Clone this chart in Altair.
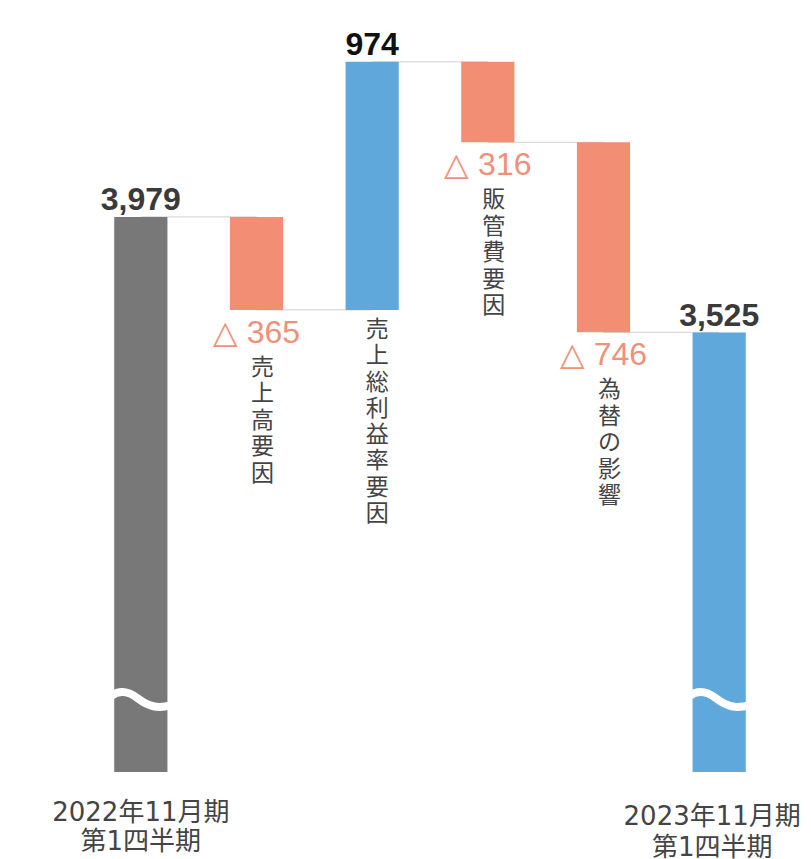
import altair as alt
import pandas as pd

# ---- data ----
keys = ["prev", "sales", "margin", "sga", "fx", "curr"]
labels = ["2022年11月期\n第1四半期", "売上高要因", "売上総利益率要因", "販管費要因", "為替の影響", "2023年11月期\n第1四半期"]
kinds = ["previous", "decrease", "increase", "decrease", "decrease", "current"]
amounts = [3979, -365, 974, -316, -746, 3525]
value_labels = ["3,979", "△ 365", "974", "△ 316", "△ 746", "3,525"]
axis_floor = 1800      # value where the broken axis is cut
break_value = 2083     # where the wavy break mark sits on the total bars
axis_top = 4713

# ---- build waterfall table ----
rows = []
running = 0
for k, lab, kind, amt, vl in zip(keys, labels, kinds, amounts, value_labels):
    if kind in ("previous", "current"):
        lo, hi = axis_floor, amt
        running = amt
    else:
        start = running
        end = running + amt
        lo, hi = min(start, end), max(start, end)
        running = end
    rows.append(dict(key=k, label=lab, kind=kind, lo=lo, hi=hi, level=running, vlabel=vl))
df = pd.DataFrame(rows)
df["vert"] = df["label"].apply(lambda s: "\n".join(list(s)))
df["brk"] = break_value

conn = pd.DataFrame({
    "key": keys[:-1],
    "key2": keys[1:],
    "level": df["level"].tolist()[:-1],
})

xsc = alt.Scale(domain=keys, paddingInner=0.54, paddingOuter=0.27)
ysc = alt.Scale(domain=[axis_floor, axis_top], nice=False, zero=False)
X = alt.X("key:N", scale=xsc, axis=None, sort=keys)
color_scale = alt.Scale(domain=["previous", "current", "increase", "decrease"],
                        range=["#787878", "#5FA8DB", "#5FA8DB", "#F28E74"])

base = alt.Chart(df)

connectors = alt.Chart(conn).mark_rule(color="#DADADA", strokeWidth=1.2).encode(
    x=alt.X("key:N", scale=xsc, axis=None, sort=keys),
    x2="key2:N",
    y=alt.Y("level:Q", scale=ysc, axis=None),
)

bars = base.mark_bar().encode(
    x=X,
    y=alt.Y("lo:Q", scale=ysc, axis=None),
    y2="hi:Q",
    color=alt.Color("kind:N", scale=color_scale, legend=None),
)

wave = "M -1 -0.12 C -0.75 -0.32, -0.45 -0.32, -0.1 -0.05 C 0.25 0.22, 0.55 0.3, 1 0.18"
breaks = base.transform_filter(
    "datum.kind == 'previous' || datum.kind == 'current'"
).mark_point(shape=wave, size=3600, filled=False, stroke="white", strokeWidth=8, opacity=1).encode(
    x=X, y=alt.Y("brk:Q", scale=ysc, axis=None)
)

total_labels = base.transform_filter("datum.kind == 'previous' || datum.kind == 'current'").mark_text(
    font="Liberation Sans", fontSize=32, fontWeight="bold", baseline="alphabetic", dy=-7,
    color="#3A3A3A"
).encode(
    x=X, y=alt.Y("hi:Q", scale=ysc, axis=None), text="vlabel:N",
)

inc_labels = base.transform_filter("datum.kind == 'increase'").mark_text(
    font="Liberation Sans", fontSize=32, fontWeight="bold", baseline="alphabetic", dy=-7,
    color="#111111"
).encode(
    x=X, y=alt.Y("hi:Q", scale=ysc, axis=None), text="vlabel:N",
)

dec_labels = base.transform_filter("datum.kind == 'decrease'").mark_text(
    font="Liberation Sans", fontSize=32, baseline="alphabetic", dy=33, color="#F0907A"
).encode(
    x=X, y=alt.Y("lo:Q", scale=ysc, axis=None), text="vlabel:N",
)

dec_names = base.transform_filter("datum.kind == 'decrease'").mark_text(
    font="Noto Sans CJK JP", fontSize=23, baseline="top", dy=47, dx=6, lineBreak="\n",
    lineHeight=26.5, color="#444444"
).encode(
    x=X, y=alt.Y("lo:Q", scale=ysc, axis=None), text="vert:N",
)

inc_names = base.transform_filter("datum.kind == 'increase'").mark_text(
    font="Noto Sans CJK JP", fontSize=23, baseline="top", dy=9, dx=5, lineBreak="\n",
    lineHeight=26.3, color="#444444"
).encode(
    x=X, y=alt.Y("lo:Q", scale=ysc, axis=None), text="vert:N",
)

prev_name = base.transform_filter("datum.kind == 'previous'").mark_text(
    font="DejaVu Sans, Noto Sans CJK JP", fontSize=26, baseline="top", dy=28, lineBreak="\n",
    lineHeight=29, color="#444444"
).encode(
    x=X, y=alt.Y("lo:Q", scale=ysc, axis=None), text="label:N",
)

curr_name = base.transform_filter("datum.kind == 'current'").mark_text(
    font="DejaVu Sans, Noto Sans CJK JP", fontSize=26, baseline="top", dy=32, dx=-7, lineBreak="\n",
    lineHeight=31, color="#444444"
).encode(
    x=X, y=alt.Y("lo:Q", scale=ysc, axis=None), text="label:N",
)

chart = alt.layer(
    connectors, bars, breaks, total_labels, inc_labels, dec_labels, dec_names, inc_names,
    prev_name, curr_name
).properties(
    width=694, height=742,
    autosize=alt.AutoSizeParams(type="none"),
    padding={"left": 75, "top": 22, "right": 26, "bottom": 87},
).configure_view(stroke=None)

chart.save("out.html", embed_options={"renderer": "svg", "actions": False})
